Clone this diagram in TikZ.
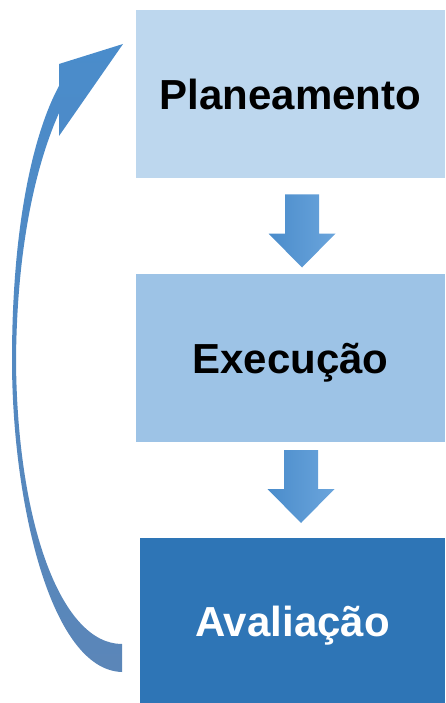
\documentclass[tikz,border=0pt]{standalone}
\usepackage{fontspec}
\setmainfont{Liberation Sans}
\usepackage{tikz}
\usetikzlibrary{calc}
\definecolor{boxlight}{RGB}{189,215,238}
\definecolor{boxmid}{RGB}{157,195,230}
\definecolor{boxdark}{RGB}{46,117,182}
\definecolor{arrowleft}{RGB}{74,140,203}
\definecolor{arrowright}{RGB}{107,165,220}
\definecolor{loopbottom}{RGB}{91,134,184}
\tikzset{
         stagebox/.style=
          {
           inner sep=0pt, text height=31pt, text depth=0pt,
           font=\fontsize{42}{50}\selectfont\bfseries
          },
         blockarrow/.style=
          {
           left color=arrowleft, right color=arrowright, draw=none
          }
        }
\newcommand{\downblock}[1]{% block arrow, #1 = centre
  \shade[blockarrow] ($#1+(-17,-36)$) -- ($#1+(17,-36)$) -- ($#1+(17,3)$)
     -- ($#1+(33.5,3)$) -- ($#1+(0,37)$) -- ($#1+(-33.5,3)$) -- ($#1+(-17,3)$) -- cycle;}

\begin{document}
\begin{tikzpicture}[x=1pt,y=-1pt]
      \useasboundingbox (0,0) rectangle (445,703); % page
      \node[stagebox,fill=boxlight,minimum width=309pt,minimum height=168pt] (plan) at (290.5,94) {Planeamento}; % top box
      \node[stagebox,fill=boxmid,minimum width=309pt,minimum height=168pt] (exec) at (290.5,358) {Execução}; % middle box
      \node[stagebox,fill=boxdark,text=white,minimum width=305pt,minimum height=165pt] (aval) at (292.5,620.5) {Avaliação}; % bottom box
      \downblock{(302,230.5)} % arrow plan -> exec
      \downblock{(301,486)} % arrow exec -> aval
      \shade[top color=arrowleft,bottom color=loopbottom] (122,672)
         .. controls (50,670) and (12,500) .. (12,360)
         .. controls (12,220) and (35,130) .. (59,86)
         -- (59,64) -- (123,44) -- (59,136) -- (59,113)
         .. controls (38,160) and (17,240) .. (16,360)
         .. controls (17,520) and (60,644) .. (122,644) -- cycle; % loop back arrow
   \end{tikzpicture}
\end{document}
